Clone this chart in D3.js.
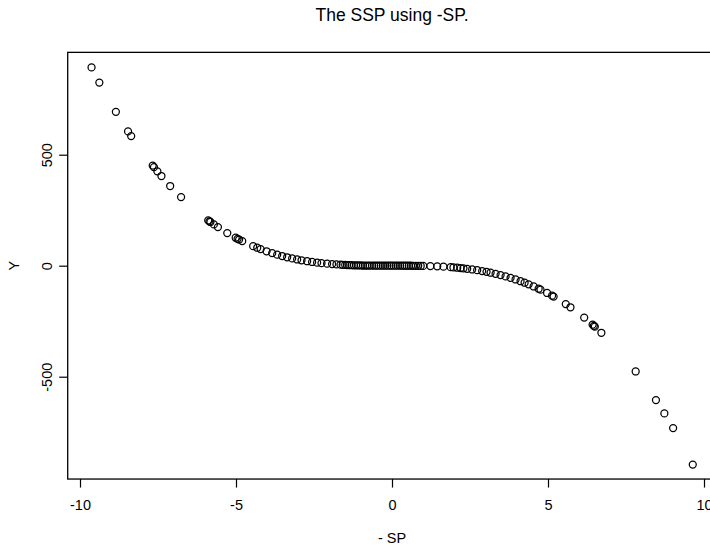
<!DOCTYPE html>
<html><head><meta charset="utf-8">
<script src="https://cdn.jsdelivr.net/npm/d3@7"></script>
<style>body{margin:0;background:#fff}svg{display:block}text{font-family:"Liberation Sans",Arial,sans-serif;fill:#000}</style>
</head><body><div id="chart"></div>
<script>
const title = "The SSP using -SP.";
const xLabel = "- SP";
const yLabel = "Y";
const xTicks = [-10, -5, 0, 5, 10];
const yTicks = [-500, 0, 500];
const xValues = [-9.63,-9.38,-8.85,-8.46,-8.36,-7.67,-7.63,-7.52,-7.39,-7.11,-6.76,
 -5.89,-5.85,-5.82,-5.71,-5.58,-5.28,-5.01,-4.95,-4.90,-4.80,-4.45,-4.32,
 -4.21,-4.02,-3.84,-3.68,-3.52,-3.36,-3.20,-3.04,-2.90,-2.72,-2.56,-2.40,-2.26,-2.08,-1.92,-1.78,
 -1.65,-1.58,-1.50,-1.44,-1.37,-1.30,-1.22,-1.15,-1.08,-1.00,-0.93,-0.86,-0.79,-0.72,-0.64,-0.57,-0.50,-0.43,-0.36,-0.29,-0.22,-0.15,-0.08,-0.02,
 0.05,0.12,0.19,0.26,0.33,0.40,0.47,0.54,0.61,0.68,0.76,0.84,0.92,1.00,
 1.23,1.45,1.65,1.88,1.97,2.09,2.20,2.29,2.41,2.57,2.73,2.89,3.03,3.16,3.32,3.48,3.64,3.80,3.96,4.12,4.25,4.38,4.54,4.70,4.76,4.97,5.13,5.18,
 5.57,5.72,6.16,6.43,6.47,6.50,6.71,7.81,8.46,8.73,9.01,9.64];
const yValues = [893,825,693,605,584,451,444,425,404,359,309,
 204,200,197,186,174,147,126,121,118,111,88,81,
 75,65.0,56.6,49.8,43.6,37.9,32.8,28.1,24.4,20.1,16.8,13.8,11.5,9.0,7.1,5.6,
 4.5,3.9,3.4,3.0,2.6,2.2,1.8,1.5,1.3,1.0,0.8,0.6,0.5,0.4,0.3,0.2,0.1,0.1,0.05,0.02,0.01,0.0,0.0,0.0,
 0.0,0.0,-0.01,-0.02,-0.04,-0.1,-0.1,-0.2,-0.2,-0.3,-0.4,-0.6,-0.8,-1.0,
 -1.9,-3.0,-4.5,-6.6,-7.6,-9.1,-10.6,-12.0,-14.0,-17.0,-20.3,-24.1,-27.8,-31.6,-36.6,-42.1,-48.2,-54.9,-62.1,-69.9,-76.8,-84.0,-93.6,-103.8,-107.9,-122.8,-135.0,-139.0,
 -172.8,-187.2,-233.8,-265.8,-270.8,-274.6,-302.1,-476.4,-605.5,-665.3,-731.4,-895.9];

const W = 710, H = 548;
const svg = d3.select("#chart").append("svg").attr("width", W).attr("height", H);
const x = d3.scaleLinear().domain([-10, 10]).range([80, 704]);
const y = d3.scaleLinear().domain([-500, 500]).range([376.7, 154.7]);
const xMin = -10.394, xMax = 10.394, yMin = -961, yMax = 961;

// plot box
svg.append("rect").attr("x", x(xMin)).attr("y", y(yMax))
  .attr("width", x(xMax) - x(xMin)).attr("height", y(yMin) - y(yMax))
  .attr("fill", "none").attr("stroke", "#000").attr("stroke-width", 1.3);

// x axis
const xAxis = d3.axisBottom(x).tickValues(xTicks).tickFormat(d3.format("d")).tickSizeInner(8.5).tickSizeOuter(0).tickPadding(12);
const gx = svg.append("g").attr("transform", `translate(0,${y(yMin)})`).call(xAxis);
gx.select(".domain").remove();
gx.selectAll("line").attr("stroke-width", 1.2);
gx.selectAll("text").attr("font-size", 14.5).attr("font-family", '"Liberation Sans",Arial,sans-serif').text(d => d < 0 ? "-" + Math.abs(d) : d);

// y axis
const yAxis = d3.axisLeft(y).tickValues(yTicks).tickSizeInner(8.5).tickSizeOuter(0);
const gy = svg.append("g").attr("transform", `translate(${x(xMin)},0)`).call(yAxis);
gy.select(".domain").remove();
gy.selectAll("line").attr("stroke-width", 1.2);
gy.selectAll("text").remove();
gy.selectAll(".tick").append("text")
  .attr("transform", "translate(-16,0) rotate(-90)")
  .attr("text-anchor", "middle").attr("dy", "0em")
  .attr("font-size", 14.5).attr("font-family", '"Liberation Sans",Arial,sans-serif')
  .text(d => d < 0 ? "-" + Math.abs(d) : d);

// points
svg.append("g").selectAll("circle").data(xValues.map((v, i) => [v, yValues[i]]))
  .join("circle").attr("cx", d => x(d[0])).attr("cy", d => y(d[1])).attr("r", 3.5)
  .attr("fill", "none").attr("stroke", "#000").attr("stroke-width", 1.25);

// labels
svg.append("text").attr("x", 392).attr("y", 21).attr("text-anchor", "middle").attr("font-size", 17.5).text(title);
svg.append("text").attr("x", 392).attr("y", 543).attr("text-anchor", "middle").attr("font-size", 14.5).text(xLabel);
svg.append("text").attr("transform", `translate(19,${y(0)}) rotate(-90)`).attr("text-anchor", "middle").attr("font-size", 14.5).text(yLabel);
</script></body></html>
